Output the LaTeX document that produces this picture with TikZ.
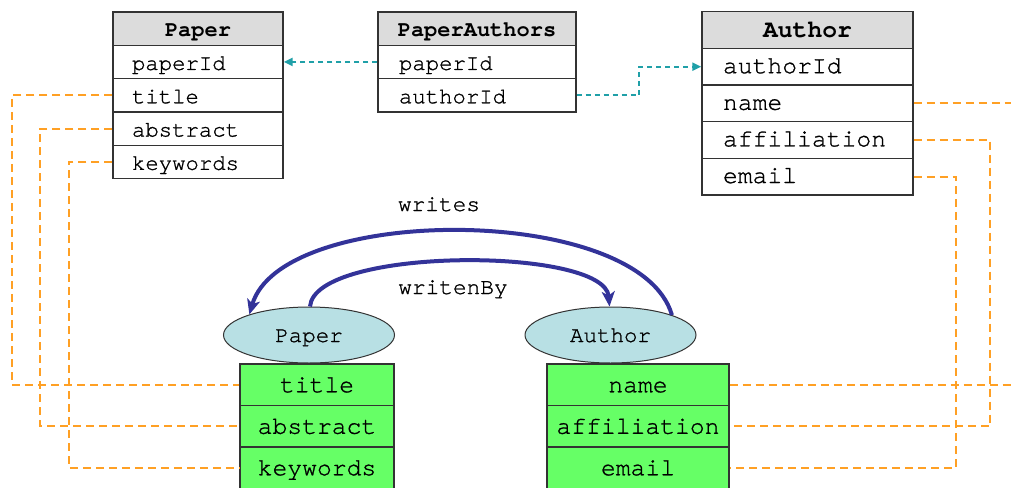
\documentclass[tikz,border=0pt]{standalone}
\usepackage{fontspec}
\newfontfamily\cour{texgyrecursor-regular.otf}[Ligatures=CommonOff, FakeBold=1, BoldFont=texgyrecursor-bold.otf, BoldFeatures={FakeBold=0}]
\usetikzlibrary{shapes.geometric,arrows.meta}
\definecolor{hdr}{HTML}{DCDCDC}
\definecolor{bord}{HTML}{333333}
\definecolor{ellfill}{HTML}{B8E0E4}
\definecolor{grn}{HTML}{66FF66}
\definecolor{orng}{HTML}{FFA024}
\definecolor{teal2}{HTML}{20A0A8}
\definecolor{arrblue}{HTML}{333399}
\begin{document}
\begin{tikzpicture}[x=1pt,y=-1pt,
  fsmall/.style={font=\cour\fontsize{22.3}{24}\selectfont},
  fbig/.style={font=\cour\fontsize{24.7}{27}\selectfont},
  cell/.style={draw=bord, line width=1.4pt, inner ysep=0pt, text depth=0pt},
  prow/.style={cell, fsmall, minimum height=33.3pt, inner xsep=19pt, text width=132pt, align=left, text height=16pt},
  phead/.style={cell, fill=hdr, minimum height=33.3pt, inner xsep=1pt, text width=168pt, align=center, text height=15pt, font=\cour\bfseries\fontsize{22}{24}\selectfont},
  parow/.style={cell, fsmall, minimum height=33.3pt, inner xsep=21pt, text width=156pt, align=left, text height=16pt},
  pahead/.style={phead, text width=196pt},
  arow/.style={cell, fbig, minimum height=36.6pt, inner xsep=21pt, text width=169pt, align=left, text height=13pt},
  ahead/.style={cell, fill=hdr, minimum height=36.6pt, inner xsep=1pt, text width=209pt, align=center, text height=15pt, font=\cour\bfseries\fontsize{24.7}{27}\selectfont},
  greenrow/.style={cell, fill=grn, fbig, minimum height=41.5pt, inner xsep=1pt, align=center, text height=15pt},
  ell/.style={draw=bord, line width=1pt, fill=ellfill, ellipse, minimum width=171pt, minimum height=56pt, inner sep=0pt, text height=14pt, text depth=0pt, font=\cour\fontsize{22.5}{25}\selectfont},
  lbl/.style={anchor=base, inner sep=0pt, font=\cour\fontsize{22.8}{25}\selectfont},
  odash/.style={draw=orng, line width=2pt, dash pattern=on 8pt off 5pt},
  cdash/.style={draw=teal2, line width=2pt, dash pattern=on 5pt off 4pt, -{Triangle[length=9pt,width=8pt]}},
  rel/.style={draw=arrblue, line width=4pt, -{Stealth[length=15pt,width=13pt,inset=4pt]}}
]
\path[use as bounding box, clip] (0,0) rectangle (1011,487);

% Paper table
\node[phead] (ph) at (198,28.65) {Paper};
\node[prow] (ppid) at (198,61.95) {paperId};
\node[prow] (ptitle) at (198,95.25) {title};
\node[prow] (pabs) at (198,128.55) {abstract};
\node[prow] (pkey) at (198,161.85) {keywords};

% PaperAuthors table
\node[pahead] (pah) at (477,28.65) {PaperAuthors};
\node[parow] (papid) at (477,61.95) {paperId};
\node[parow] (paaid) at (477,95.25) {authorId};

% Author table
\node[ahead] (ah) at (807.5,30.1) {Author};
\node[arow] (aaid) at (807.5,66.7) {authorId};
\node[arow] (aname) at (807.5,103.3) {name};
\node[arow] (aaff) at (807.5,139.9) {affiliation};
\node[arow] (aemail) at (807.5,176.5) {email};

% ellipses
\node[ell] (pell) at (309,335) {Paper};
\node[ell] (aell) at (610.5,335) {Author};

% green boxes
\node[greenrow, text width=152pt] (gptitle) at (317,384.75) {title};
\node[greenrow, text width=152pt] (gpabs) at (317,426.25) {abstract};
\node[greenrow, text width=152pt] (gpkey) at (317,467.75) {keywords};
\node[greenrow, text width=180pt] (ganame) at (638,384.75) {name};
\node[greenrow, text width=180pt] (gaaff) at (638,426.25) {affiliation};
\node[greenrow, text width=180pt] (gaemail) at (638,467.75) {email};

% lanes
\coordinate (laneA) at (12,0);
\coordinate (laneB) at (40,0);
\coordinate (laneC) at (68.5,0);
\coordinate (laneT) at (639,0);
\coordinate (laneE) at (956,0);
\coordinate (laneD) at (990,0);
\coordinate (edge) at (1011,0);

% foreign keys
\draw[cdash] (papid.west) -- (ppid.east);
\draw[cdash] (paaid.east) -- (laneT |- paaid.east) |- (aaid.west);

% orange mappings
\draw[odash] (ptitle.west) -| (laneA |- gptitle.west) -- (gptitle.west);
\draw[odash] (pabs.west) -| (laneB |- gpabs.west) -- (gpabs.west);
\draw[odash] (pkey.west) -| (laneC |- gpkey.west) -- (gpkey.west);
\draw[odash] (aname.east) -- (edge |- aname.east);
\draw[odash] (ganame.east) -- (edge |- ganame.east);
\draw[odash] (aaff.east) -| (laneD |- gaaff.east) -- (gaaff.east);
\draw[odash] (aemail.east) -| (laneE |- gaemail.east) -- (gaemail.east);

% relations
\draw[rel] (aell.18) .. controls +(-32,-112) and +(32,-111) .. (pell.161);
\draw[rel] (pell.88) .. controls +(5,-60) and +(-5,-60) .. (aell.92);
\node[lbl] (lwrites) at (439,211) {writes};
\node[lbl] (lwritenby) at (453,294) {writenBy};
\end{tikzpicture}
\end{document}
